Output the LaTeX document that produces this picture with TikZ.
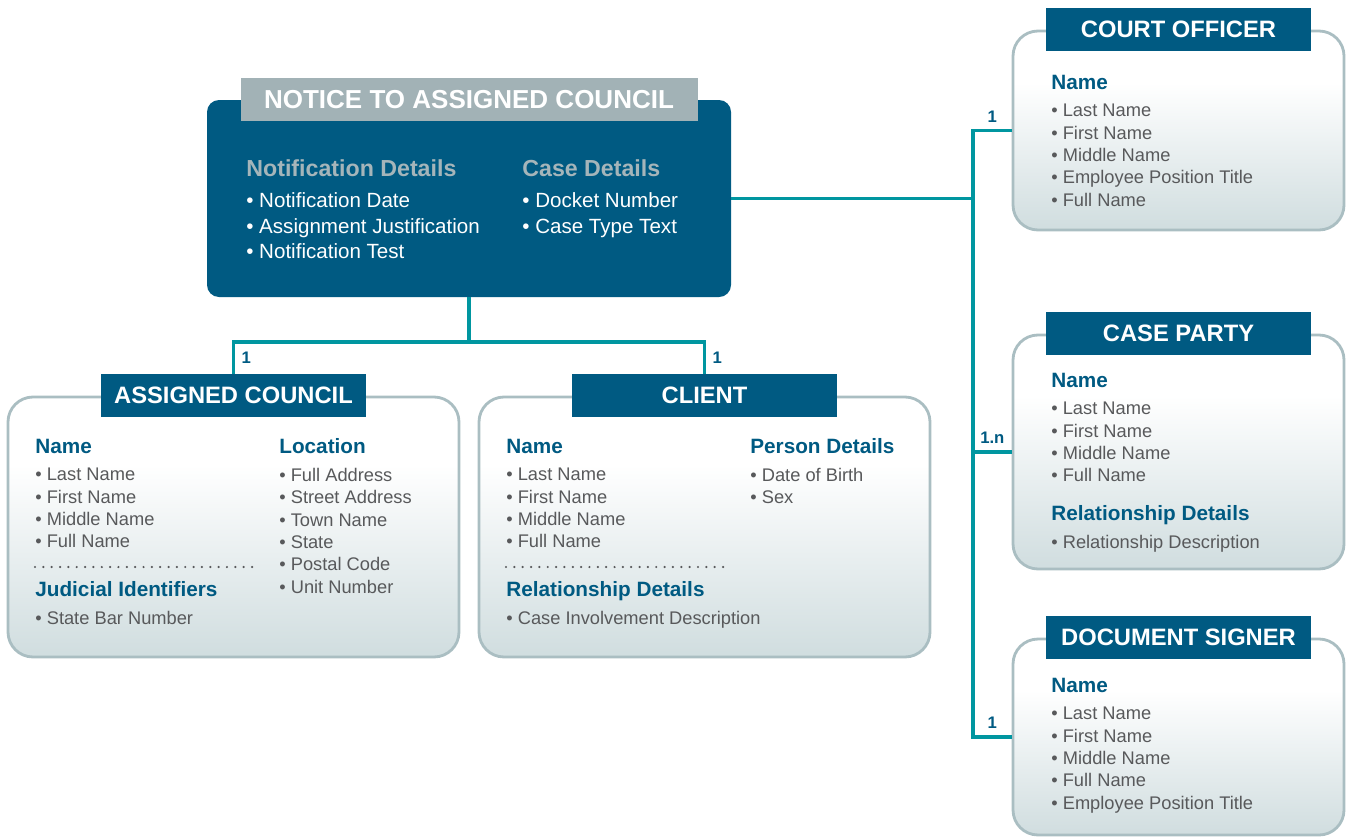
\documentclass[tikz,border=0pt]{standalone}
\usepackage{fontspec}
\setmainfont{Liberation Sans}
\usetikzlibrary{positioning}
\definecolor{navy}{HTML}{005A82}
\definecolor{linkteal}{HTML}{0096A0}
\definecolor{headgray}{HTML}{A2B2B6}
\definecolor{softgray}{HTML}{A5B5BA}
\definecolor{cardedge}{HTML}{AABEC2}
\definecolor{cardbot}{HTML}{D0DDDF}
\definecolor{itemgray}{HTML}{58595B}
\pgfdeclareverticalshading{cardfill}{100bp}{color(0bp)=(cardbot); color(25bp)=(cardbot); color(62bp)=(white); color(100bp)=(white)}

\begin{document}
\begin{tikzpicture}[
    mainbox/.style={rectangle, rounded corners=0.24cm, fill=navy, minimum width=10.48cm, minimum height=3.94cm},
    mainhead/.style={rectangle, fill=headgray, minimum width=9.14cm, minimum height=0.86cm, text=white, font=\bfseries\fontsize{14.8}{17}\selectfont},
    card/.style={rectangle, rounded corners=0.5cm, draw=cardedge, line width=1.6pt, shade, shading=cardfill},
    cardhead/.style={rectangle, fill=navy, minimum width=5.3cm, minimum height=0.86cm, text=white, font=\bfseries\fontsize{13.5}{16}\selectfont},
    group/.style={anchor=base west, inner sep=0pt, text depth=0pt, text=navy, font=\bfseries\fontsize{11.8}{14}\selectfont},
    maingroup/.style={group, text=softgray, font=\bfseries\fontsize{13.2}{16}\selectfont},
    items/.style={inner sep=0pt, align=left, text=itemgray, font=\fontsize{10.4}{12.75}\selectfont},
    mainitems/.style={items, text=white, font=\fontsize{11.7}{14.5}\selectfont},
    divider/.style={draw=itemgray, line width=1.4pt, line cap=round, dash pattern=on 0pt off 4.75pt},
    link/.style={draw=linkteal, line width=2.2pt},
    mult/.style={text=navy, font=\bfseries\fontsize{9.5}{11}\selectfont, inner sep=3.5pt}
]
    \useasboundingbox (0,0) rectangle (26.94,-16.74);

    % Notice to assigned council
    \node[mainbox] (notice) at (9.38,-3.97) {};
    \node[mainhead] (noticehead) at (notice.north) {NOTICE TO ASSIGNED COUNCIL};
    \node[maingroup] (notifdet) at (4.92,-3.53) {Notification Details};
    \node[mainitems, below=9pt of notifdet.south west, anchor=north west] (notiflist) {• Notification Date\\• Assignment Justification\\• Notification Test};
    \node[maingroup] (casedet) at (10.44,-3.53) {Case Details};
    \node[mainitems, below=9pt of casedet.south west, anchor=north west] (caselist) {• Docket Number\\• Case Type Text};

    % Assigned council
    \node[card, minimum width=9.02cm, minimum height=5.2cm] (council) at (4.67,-10.54) {};
    \node[cardhead] (councilhead) at (council.north) {ASSIGNED COUNCIL};
    \node[group] (acname) at (0.70,-9.07) {Name};
    \node[items, below=7.9pt of acname.south west, anchor=north west] (acnamelist) {• Last Name\\• First Name\\• Middle Name\\• Full Name};
    \draw[divider] (0.70,-11.34) -- (5.06,-11.34);
    \node[group] (acjudicial) at (0.70,-11.93) {Judicial Identifiers};
    \node[items, below=7.9pt of acjudicial.south west, anchor=north west] (acjudlist) {• State Bar Number};
    \node[group] (acloc) at (5.58,-9.07) {Location};
    \node[items, below=7.9pt of acloc.south west, anchor=north west] (acloclist) {• Full Address\\• Street Address\\• Town Name\\• State\\• Postal Code\\• Unit Number};

    % Client
    \node[card, minimum width=9.02cm, minimum height=5.2cm] (client) at (14.09,-10.54) {};
    \node[cardhead] (clienthead) at (client.north) {CLIENT};
    \node[group] (clname) at (10.12,-9.07) {Name};
    \node[items, below=7.9pt of clname.south west, anchor=north west] (clnamelist) {• Last Name\\• First Name\\• Middle Name\\• Full Name};
    \draw[divider] (10.12,-11.34) -- (14.5,-11.34);
    \node[group] (clrel) at (10.12,-11.93) {Relationship Details};
    \node[items, below=7.9pt of clrel.south west, anchor=north west] (clrellist) {• Case Involvement Description};
    \node[group] (clperson) at (15.0,-9.07) {Person Details};
    \node[items, below=7.9pt of clperson.south west, anchor=north west] (clpersonlist) {• Date of Birth\\• Sex};

    % Court officer
    \node[card, minimum width=6.62cm, minimum height=3.98cm] (officer) at (23.57,-2.61) {};
    \node[cardhead] (officerhead) at (officer.north) {COURT OFFICER};
    \node[group] (coname) at (21.02,-1.79) {Name};
    \node[items, below=7.9pt of coname.south west, anchor=north west] (conamelist) {• Last Name\\• First Name\\• Middle Name\\• Employee Position Title\\• Full Name};

    % Case party
    \node[card, minimum width=6.62cm, minimum height=4.68cm] (party) at (23.57,-9.04) {};
    \node[cardhead] (partyhead) at (party.north) {CASE PARTY};
    \node[group] (cpname) at (21.02,-7.75) {Name};
    \node[items, below=7.9pt of cpname.south west, anchor=north west] (cpnamelist) {• Last Name\\• First Name\\• Middle Name\\• Full Name};
    \node[group] (cprel) at (21.02,-10.41) {Relationship Details};
    \node[items, below=7.9pt of cprel.south west, anchor=north west] (cprellist) {• Relationship Description};

    % Document signer
    \node[card, minimum width=6.62cm, minimum height=3.92cm] (signer) at (23.57,-14.74) {};
    \node[cardhead] (signerhead) at (signer.north) {DOCUMENT SIGNER};
    \node[group] (dsname) at (21.02,-13.85) {Name};
    \node[items, below=7.9pt of dsname.south west, anchor=north west] (dsnamelist) {• Last Name\\• First Name\\• Middle Name\\• Full Name\\• Employee Position Title};

    % Links below the notice
    \draw[link] (notice.south) -- ++(0,-0.9) -| node[mult, pos=0.75, right] {1} (councilhead.north);
    \draw[link] (notice.south) -- ++(0,-0.9) -| node[mult, pos=0.75, right] {1} (clienthead.north);

    % Links to the right-hand records
    \coordinate (bus) at (19.46,-4);
    \draw[link] (notice.east) -- (notice.east -| bus);
    \draw[link] (officer.west) -- node[mult, above] {1} (officer.west -| bus) |- node[mult, pos=0.75, above] {1} (signer.west);
    \draw[link] (party.west) -- node[mult, above] {1.n} (party.west -| bus);
\end{tikzpicture}
\end{document}
